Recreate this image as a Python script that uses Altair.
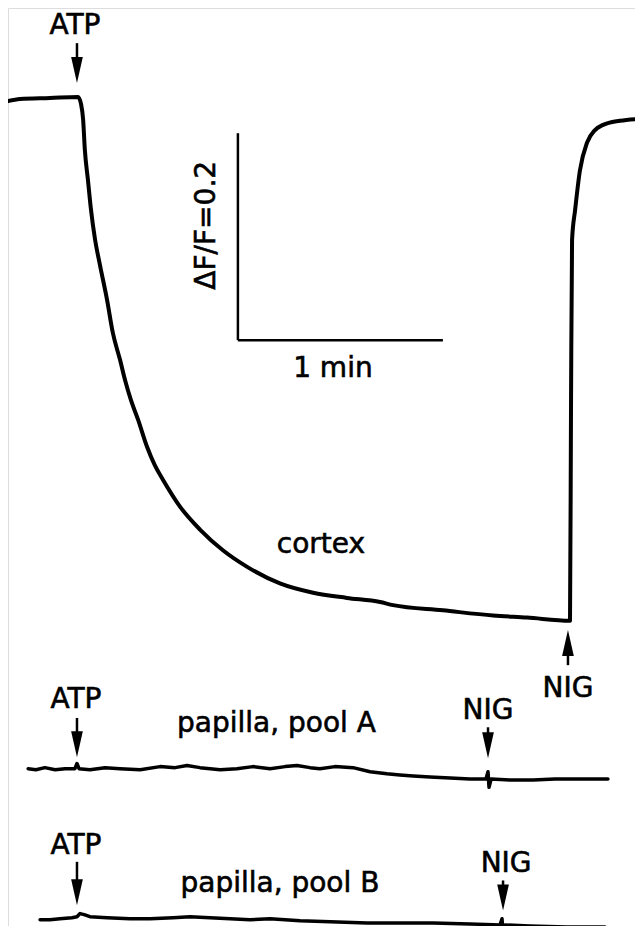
import altair as alt
import pandas as pd

# ---- data (time in s, ATP added at t = 0; signal in ΔF/F) ----
cortex_t = [-20.5, -17.0, -8.2, 0.0, 0.9, 1.5, 2.0, 2.9, 3.8, 5.0, 6.4, 8.5, 10.2, 12.3,
            13.8, 15.5, 17.6, 20.2, 22.5, 24.9, 29.9, 35.7, 42.4, 49.5, 59.1, 68.8, 78.7,
            88.4, 92.2, 106.8, 121.5, 131.4, 144.0, 144.3, 144.6, 145.5, 146.9, 149.0,
            151.3, 153.7, 158.6, 165.4]
cortex_v = [-0.003, -0.001, 0.000, 0.001, -0.006, -0.021, -0.050, -0.079, -0.108, -0.137,
            -0.161, -0.195, -0.227, -0.253, -0.273, -0.292, -0.311, -0.337, -0.355, -0.369,
            -0.395, -0.417, -0.437, -0.453, -0.469, -0.478, -0.483, -0.487, -0.490, -0.495,
            -0.500, -0.502, -0.505, -0.292, -0.137, -0.108, -0.070, -0.043, -0.031, -0.026,
            -0.022, -0.020]

poolA_t = [-14.6, -12.3, -9.7, -6.7, -3.8, -0.9, -0.3, 0.3, 3.5, 7.9, 12.3, 18.2, 24.0,
           28.4, 31.9, 35.7, 41.6, 46.5, 51.2, 56.2, 60.6, 64.1, 67.9, 70.8, 75.2, 80.5,
           85.5, 90.4, 94.2, 98.1, 103.0, 108.9, 114.7, 119.4, 120.0, 120.3, 120.9, 126.4,
           133.2, 139.6, 147.8, 155.1]
poolA_v = [0.000, -0.001, 0.001, -0.001, 0.000, 0.000, 0.005, 0.000, -0.001, 0.001, 0.000,
           -0.001, 0.002, 0.001, 0.003, 0.001, -0.001, 0.000, 0.002, 0.000, 0.002, 0.003,
           0.001, 0.000, 0.002, 0.001, -0.003, -0.005, -0.006, -0.007, -0.008, -0.009,
           -0.010, -0.010, -0.003, -0.018, -0.010, -0.011, -0.011, -0.010, -0.010, -0.010]

poolB_t = [-11.1, -8.2, -5.3, -1.8, -0.3, 0.6, 1.8, 3.5, 8.5, 15.2, 21.1, 27.8, 32.8, 38.6,
           44.5, 50.3, 56.2, 65.0, 73.8, 84.6, 94.2, 103.9, 114.7, 123.5, 124.1, 124.4,
           125.0, 132.3, 143.1, 154.2]
poolB_v = [0.000, 0.000, 0.001, 0.002, 0.003, 0.006, 0.005, 0.003, 0.002, 0.001, 0.001,
           0.002, 0.003, 0.002, 0.001, 0.000, 0.001, -0.001, -0.002, -0.003, -0.003, -0.003,
           -0.004, -0.005, 0.001, -0.013, -0.005, -0.006, -0.007, -0.007]

# vertical display offsets of the papilla traces (ΔF/F units)
OFFSET_A = -0.648
OFFSET_B = -0.794

# scale bar: 1 min by ΔF/F = 0.2
bar_t0, bar_v0, bar_dt, bar_dv = 46.8, -0.234, 60.0, 0.2

# arrows: time, start level, tip level, direction
arrow_t = [-0.3, 143.4, -0.3, 120.0, -0.3, 124.4]
arrow_from = [0.053, -0.548, -0.599, -0.608, -0.738, -0.756]
arrow_tip = [0.0145, -0.514, -0.637, -0.638, -0.780, -0.785]
arrow_dir = ["down", "up", "down", "down", "down", "down"]

# labels
label_text = ["ATP", "1 min", "cortex", "NIG", "ATP", "papilla, pool A", "NIG",
              "ATP", "papilla, pool B", "NIG"]
label_t = [-0.9, 74.6, 71.1, 143.4, -0.6, 58.1, 120.0, -0.6, 59.1, 125.3]
label_v = [0.0615, -0.270, -0.440, -0.579, -0.589, -0.613, -0.600, -0.730, -0.767, -0.748]
ylabel_text, ylabel_t, ylabel_v = "ΔF/F=0.2", 37.8, -0.123

# ---- frames ----
def trace(ts, vs, name, off=0.0):
    return pd.DataFrame({"t": ts, "v": [v + off for v in vs], "i": range(len(ts)), "s": name})

cortex = trace(cortex_t, cortex_v, "cortex")
papilla = pd.concat([trace(poolA_t, poolA_v, "A", OFFSET_A),
                     trace(poolB_t, poolB_v, "B", OFFSET_B)])

HEAD = 0.0126
arrows = pd.DataFrame({"t": arrow_t, "v_from": arrow_from, "v_tip": arrow_tip, "dir": arrow_dir})
arrows["v_head"] = [vt + (HEAD if d == "down" else -HEAD) for vt, d in zip(arrow_tip, arrow_dir)]

bar = pd.DataFrame({"t": [bar_t0, bar_t0], "t2": [bar_t0, bar_t0 + bar_dt],
                    "v": [bar_v0, bar_v0], "v2": [bar_v0 + bar_dv, bar_v0]})
labels = pd.DataFrame({"text": label_text, "t": label_t, "v": label_v})
ylab = pd.DataFrame({"text": [ylabel_text], "t": [ylabel_t], "v": [ylabel_v]})

xs = alt.Scale(domain=[-20.49, 163.02], zero=False, nice=False)
ys = alt.Scale(domain=[-0.8, 0.08696], zero=False, nice=False)
X = lambda f: alt.X(f, type="quantitative", scale=xs, axis=None)
Y = lambda f: alt.Y(f, type="quantitative", scale=ys, axis=None)

FONT = "DejaVu Sans"

cortex_line = alt.Chart(cortex).mark_line(
    color="black", strokeWidth=4, strokeJoin="round", strokeCap="round", interpolate="monotone"
).encode(x=X("t"), y=Y("v"), order="i:Q")

papilla_lines = alt.Chart(papilla).mark_line(
    color="black", strokeWidth=3.5, strokeJoin="round", strokeCap="round"
).encode(x=X("t"), y=Y("v"), detail="s:N", order="i:Q")

bars = alt.Chart(bar).mark_rule(color="black", strokeWidth=2.5).encode(
    x=X("t"), x2="t2", y=Y("v"), y2="v2")

shafts = alt.Chart(arrows).mark_rule(color="black", strokeWidth=2.5).encode(
    x=X("t"), y=Y("v_from"), y2="v_head")

heads = alt.Chart(arrows).mark_point(filled=True, color="black", opacity=1, size=676, strokeWidth=0).encode(
    x=X("t"), y=Y("v_head"),
    shape=alt.Shape("dir:N", scale=alt.Scale(domain=["down", "up"],
                                              range=["M-0.45,-1L0.45,-1L0,1Z", "M-0.45,1L0.45,1L0,-1Z"]),
                    legend=None),
)

texts = alt.Chart(labels).mark_text(
    font=FONT, fontSize=28, color="black", stroke="black", strokeWidth=0.6,
    align="center", baseline="alphabetic"
).encode(x=X("t"), y=Y("v"), text="text:N")

ytext = alt.Chart(ylab).mark_text(
    font=FONT, fontSize=28, color="black", stroke="black", strokeWidth=0.6,
    align="center", baseline="middle", angle=270
).encode(x=X("t"), y=Y("v"), text="text:N")

chart = alt.layer(cortex_line, papilla_lines, bars, shafts, heads, texts, ytext).properties(
    width=627, height=918, padding=0,
    autosize=alt.AutoSizeParams(type="none"),
).configure_view(stroke=None).configure(background="white")

chart.save("out.html", embed_options={"renderer": "svg", "actions": False})
